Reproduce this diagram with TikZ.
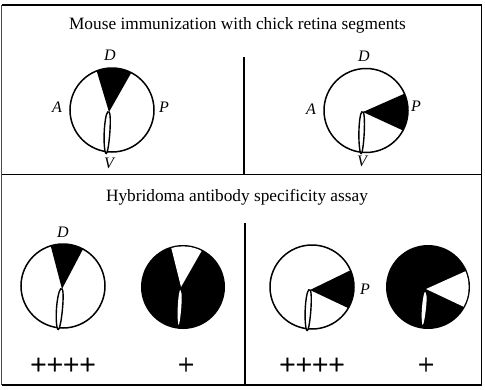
\documentclass[tikz,border=0pt]{standalone}
\usepackage{fontspec}
\setmainfont{Liberation Serif}
\newfontfamily\scorefont[FakeBold=1.2]{Liberation Serif}
\usetikzlibrary{calc}
\tikzset{
  rule/.style={line width=1.4pt,black},
  divider/.style={line width=1.6pt,black},
  outline/.style={line width=1.5pt,black},
  heading/.style={font=\fontsize{17.3}{19}\selectfont,inner sep=0pt},
  axis/.style={font=\fontsize{16}{18}\selectfont\itshape,inner sep=0pt},
  score/.style={font=\scorefont\fontsize{29}{31}\selectfont,inner sep=0pt},
}
% Retina outline with a shaded sector and the choroid fissure.
% #1 centre, #2 apex, #3,#4 sector ends, #5 fissure foot
\newcommand{\retinapos}[5]{%
  \fill[white] #1 circle[radius=42];
  \begin{scope}
    \clip #1 circle[radius=42];
    \fill[black] #2 -- ($#2!1.25!#3$) -- ($#2!1.25!#4$) -- cycle;
  \end{scope}
  \draw[outline] #1 circle[radius=42];
  \draw[line width=1.4pt,fill=white] #2 .. controls +(3.5,2) and +(3,14) .. #5
    .. controls +(-2.5,-14) and +(-3.5,-4) .. #2 -- cycle;
}
% Inverse pattern: black disc with a white sector and a white fissure.
\newcommand{\retinaneg}[5]{%
  \fill[black] #1 circle[radius=42];
  \begin{scope}
    \clip #1 circle[radius=40.6];
    \fill[white] #2 -- ($#2!1.25!#3$) -- ($#2!1.25!#4$) -- cycle;
  \end{scope}
  \fill[white] #2 ++(0,5) .. controls +(2.5,1) and +(1,14) .. #5
    .. controls +(-1.5,-12) and +(-1.5,-10) .. cycle;
}
\begin{document}
\begin{tikzpicture}[x=1pt,y=-1pt]
\useasboundingbox (0,0) rectangle (485,389);
\fill[white] (0,0) rectangle (485,389);

% frame and panel rules
\coordinate (tl) at (1.5,5);
\coordinate (tr) at (481.5,5);
\coordinate (br) at (481.5,385);
\coordinate (bl) at (1.5,385);
\coordinate (ml) at (1.5,174.5);
\coordinate (mr) at (481.5,174.5);
\draw[rule] (bl) -- (br) -- (tr) -- (tl);
\draw[line width=0.5pt,black!70] (tl) -- (bl);
\draw[rule] (ml) -- (mr);
\coordinate (d1) at (244,57);
\coordinate (d2) at (244,174.5);
\coordinate (d3) at (245,223);
\coordinate (d4) at (245,385);
\draw[divider] (d1) -- (d2);
\draw[divider] (d3) -- (d4);

% headings
\node[heading] (title1) at (237.5,25) {Mouse immunization with chick retina segments};
\node[heading] (title2) at (237,197) {Hybridoma antibody specificity assay};

% immunization panels
\retinapos{(112,110)}{(109,112)}{(97,72)}{(130,75)}{(105,151)}
\node[axis] (d-a) at (110,55) {D};
\node[axis] (a-a) at (57,107) {A};
\node[axis] (p-a) at (164,107) {P};
\node[axis] (v-a) at (109,163) {V};

\retinapos{(366,110.5)}{(363,112)}{(406,93)}{(402,130)}{(360,151)}
\node[axis] (d-b) at (364,56) {D};
\node[axis] (a-b) at (311,109) {A};
\node[axis] (p-b) at (416,106) {P};
\node[axis] (v-b) at (362,161) {V};

% specificity assay panels
\retinapos{(63,286)}{(62,289)}{(51,247)}{(82,251)}{(57,327)}
\node[axis] (d-c) at (63,232) {D};
\retinaneg{(183,287)}{(181,287)}{(171,247)}{(201,252)}{(178,322)}

\retinapos{(312,287)}{(310,290)}{(349,271)}{(346,307)}{(306,328)}
\node[axis] (p-c) at (365,289) {P};
\retinaneg{(428,287)}{(426,289)}{(466,271)}{(462,306)}{(422,322)}

% reactivity scores
\node[score] (s1) at (63,366) {++++};
\node[score] (s2) at (186,366) {+};
\node[score] (s3) at (312,366) {++++};
\node[score] (s4) at (426,366) {+};
\end{tikzpicture}
\end{document}
